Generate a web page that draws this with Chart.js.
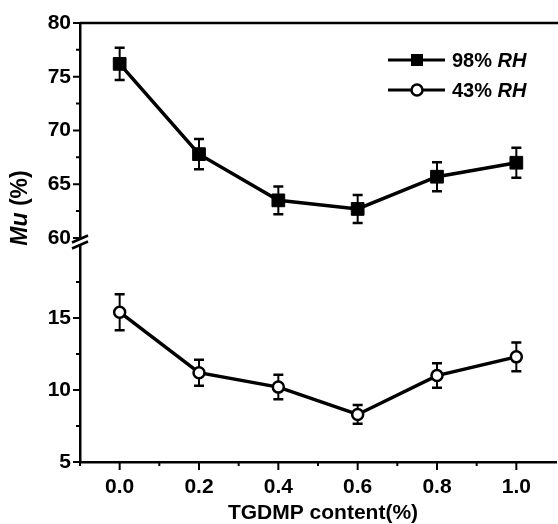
<!DOCTYPE html>
<html>
<head>
<meta charset="utf-8">
<script src="https://cdn.jsdelivr.net/npm/chart.js@4.4.1/dist/chart.umd.min.js"></script>
<style>
  html, body { margin: 0; padding: 0; background: #fff; overflow: hidden; }
</style>
</head>
<body>
<canvas id="chart" width="566" height="524"></canvas>
<script>
// TGDMP content (%)
const content = [0.0, 0.2, 0.4, 0.6, 0.8, 1.0];
// Mu (%) at 98% RH and 43% RH, with error bar half-widths
const mu98 = [76.2, 67.8, 63.5, 62.7, 65.7, 67.0];
const err98 = [1.5, 1.4, 1.3, 1.3, 1.35, 1.4];
const mu43 = [15.4, 11.2, 10.2, 8.3, 11.0, 12.3];
const err43 = [1.25, 0.9, 0.85, 0.65, 0.85, 1.0];

// tick values
const xTicks = [0.0, 0.2, 0.4, 0.6, 0.8, 1.0];
const xMinor = [-0.1, 0.1, 0.3, 0.5, 0.7, 0.9];
const topTicks = [60, 65, 70, 75, 80];
const topMinor = [62.5, 67.5, 72.5, 77.5];
const lowTicks = [5, 10, 15];
const lowMinor = [7.5, 12.5, 17.5];

const FONT = "'Liberation Sans', Arial, sans-serif";

const decor = {
  id: "decor",
  beforeDatasetsDraw(chart) {
    // error bars under the lines and markers
    const ctx = chart.ctx;
    const xs = chart.scales.x;
    ctx.save();
    ctx.strokeStyle = "#000";
    ctx.lineWidth = 2;
    [[mu98, err98, "yTop"], [mu43, err43, "y"]].forEach(([vals, errs, id]) => {
      const ys = chart.scales[id];
      vals.forEach((v, i) => {
        const x = xs.getPixelForValue(content[i]);
        const y1 = ys.getPixelForValue(v + errs[i]);
        const y2 = ys.getPixelForValue(v - errs[i]);
        ctx.beginPath();
        ctx.moveTo(x, y1); ctx.lineTo(x, y2);
        ctx.stroke();
        ctx.lineWidth = 2.5;
        ctx.beginPath();
        ctx.moveTo(x - 5, y1); ctx.lineTo(x + 5, y1);
        ctx.moveTo(x - 5, y2); ctx.lineTo(x + 5, y2);
        ctx.stroke();
        ctx.lineWidth = 2;
      });
    });
    ctx.restore();
  },
  afterDraw(chart) {
    const ctx = chart.ctx;
    const a = chart.chartArea;
    const xs = chart.scales.x, yt = chart.scales.yTop, yl = chart.scales.y;
    ctx.save();
    ctx.strokeStyle = "#000";
    ctx.lineWidth = 2.5;

    // top frame line
    ctx.beginPath();
    ctx.moveTo(a.left, a.top);
    ctx.lineTo(a.right + 10, a.top);
    ctx.stroke();

    // tick marks, all outward
    ctx.lineWidth = 2;
    ctx.beginPath();
    const yTick = (s, v, len) => {
      const y = s.getPixelForValue(v);
      ctx.moveTo(a.left - len, y); ctx.lineTo(a.left, y);
    };
    topTicks.forEach(v => yTick(yt, v, 7));
    topMinor.forEach(v => yTick(yt, v, 4));
    lowTicks.forEach(v => yTick(yl, v, 7));
    lowMinor.forEach(v => yTick(yl, v, 4));
    xTicks.forEach(v => {
      const x = xs.getPixelForValue(v);
      ctx.moveTo(x, a.bottom); ctx.lineTo(x, a.bottom + 8);
    });
    xMinor.forEach(v => {
      const x = xs.getPixelForValue(v);
      ctx.moveTo(x, a.bottom); ctx.lineTo(x, a.bottom + 4);
    });
    ctx.stroke();

    // axis break: gap in the left axis with two slashes
    const yb = yt.bottom;
    ctx.fillStyle = "#fff";
    ctx.fillRect(a.left - 3, yb - 3.5, 6, 6);
    ctx.lineWidth = 2.5;
    ctx.beginPath();
    ctx.moveTo(a.left - 8, yb); ctx.lineTo(a.left + 8, yb - 7);
    ctx.moveTo(a.left - 8, yb + 6); ctx.lineTo(a.left + 8, yb - 1);
    ctx.stroke();

    // legend
    ctx.lineWidth = 3;
    ctx.beginPath();
    ctx.moveTo(388, 60); ctx.lineTo(445, 60);
    ctx.moveTo(388, 90); ctx.lineTo(445, 90);
    ctx.stroke();
    ctx.fillStyle = "#000";
    ctx.fillRect(411, 54, 12, 12);
    ctx.beginPath();
    ctx.arc(417, 90, 5.5, 0, Math.PI * 2);
    ctx.fillStyle = "#fff";
    ctx.fill();
    ctx.lineWidth = 2.5;
    ctx.stroke();

    ctx.fillStyle = "#000";
    ctx.textBaseline = "middle";
    ctx.textAlign = "left";
    [["98% ", 61], ["43% ", 91]].forEach(([t, y]) => {
      ctx.font = "bold 20px " + FONT;
      ctx.fillText(t, 452, y);
      const w = ctx.measureText(t).width;
      ctx.font = "italic bold 20px " + FONT;
      ctx.fillText("RH", 452 + w, y);
    });

    // y title
    ctx.save();
    ctx.translate(21, 208);
    ctx.rotate(-Math.PI / 2);
    ctx.font = "italic bold 23px " + FONT;
    const w1 = ctx.measureText("Mu").width;
    ctx.font = "bold 23px " + FONT;
    const w2 = ctx.measureText(" (%)").width;
    const x0 = -(w1 + w2) / 2;
    ctx.font = "italic bold 23px " + FONT;
    ctx.fillText("Mu", x0, 0);
    ctx.font = "bold 23px " + FONT;
    ctx.fillText(" (%)", x0 + w1, 0);
    ctx.restore();

    // x title
    ctx.font = "bold 21px " + FONT;
    ctx.textAlign = "center";
    ctx.fillText("TGDMP content(%)", (a.left + a.right) / 2 + 5, 513);
    ctx.restore();
  }
};

const tickFont = { family: FONT, size: 21, weight: "bold" };

new Chart(document.getElementById("chart"), {
  type: "line",
  data: {
    datasets: [
      {
        label: "98% RH",
        data: content.map((x, i) => ({ x, y: mu98[i] })),
        yAxisID: "yTop",
        borderColor: "#000",
        backgroundColor: "#000",
        borderWidth: 3.5,
        pointStyle: "rect",
        pointRadius: 9,
        pointBorderWidth: 1,
        pointBackgroundColor: "#000",
        tension: 0
      },
      {
        label: "43% RH",
        data: content.map((x, i) => ({ x, y: mu43[i] })),
        yAxisID: "y",
        borderColor: "#000",
        backgroundColor: "#fff",
        borderWidth: 3.5,
        pointStyle: "circle",
        pointRadius: 5.5,
        pointBorderWidth: 2.5,
        pointBackgroundColor: "#fff",
        tension: 0
      }
    ]
  },
  options: {
    responsive: false,
    animation: false,
    devicePixelRatio: 1,
    layout: { padding: { top: 23, right: 5, left: 0, bottom: 0 } },
    plugins: { legend: { display: false }, tooltip: { enabled: false } },
    scales: {
      x: {
        type: "linear",
        min: -0.1,
        max: 1.1,
        afterBuildTicks: s => { s.ticks = xTicks.map(v => ({ value: v })); },
        afterFit: s => { s.height = 62; },
        grid: { display: false, drawTicks: false },
        border: { color: "#000", width: 2.5 },
        ticks: {
          color: "#000",
          font: tickFont,
          padding: 13,
          maxRotation: 0,
          callback: v => Number(v).toFixed(1)
        }
      },
      // lower part of the broken axis, listed first so it sits at the bottom
      y: {
        type: "linear",
        position: "left",
        stack: "mu",
        stackWeight: 1,
        min: 5,
        max: 20.24,
        afterBuildTicks: s => { s.ticks = lowTicks.map(v => ({ value: v })); },
        afterFit: s => { s.width = 80; },
        grid: { display: false, drawTicks: false },
        border: { color: "#000", width: 2.5 },
        ticks: { color: "#000", font: tickFont, padding: 9 }
      },
      yTop: {
        type: "linear",
        position: "left",
        stack: "mu",
        stackWeight: 1,
        min: 59.58,
        max: 80,
        afterBuildTicks: s => { s.ticks = topTicks.map(v => ({ value: v })); },
        afterFit: s => { s.width = 80; },
        grid: { display: false, drawTicks: false },
        border: { color: "#000", width: 2.5 },
        ticks: { color: "#000", font: tickFont, padding: 9 }
      }
    }
  },
  plugins: [decor]
});
</script>
</body>
</html>
